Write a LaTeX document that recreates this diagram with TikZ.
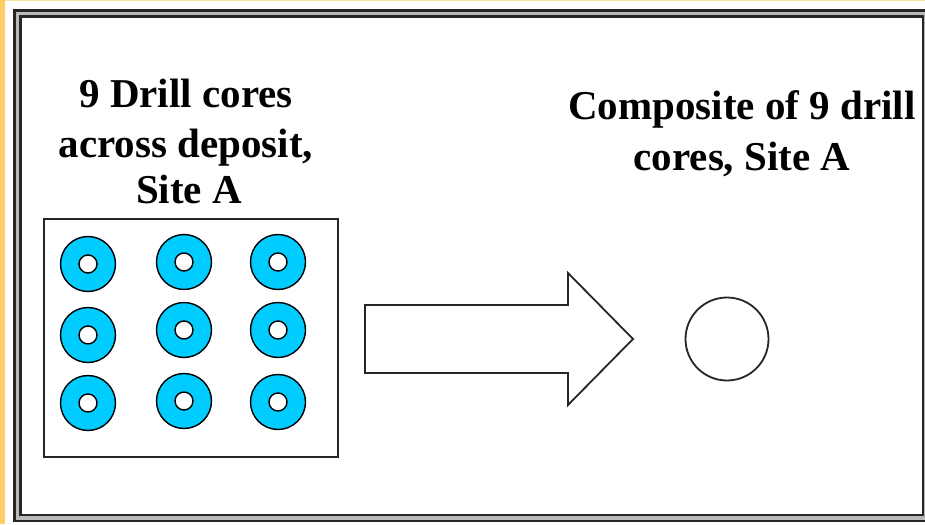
\documentclass[tikz,border=0pt]{standalone}
\usepackage{fontspec}
\newfontfamily\headfont{LiberationSerif-Bold.ttf}
\begin{document}
\begin{tikzpicture}[x=1pt,y=-1pt,
  title/.style={font=\headfont\fontsize{41}{47}\selectfont, anchor=base, inner sep=0pt},
  frameline/.style={draw=black!85, line width=2.6pt},
  donut/.style={circle, draw=black, line width=1.4pt, inner sep=0pt, minimum size=55pt},
  hole/.style={circle, draw=black, line width=1.4pt, fill=white, inner sep=0pt, minimum size=18pt}]
\definecolor{slideorange}{HTML}{FFCC66}
\definecolor{corecyan}{HTML}{00CCFF}
\useasboundingbox (0,0) rectangle (925,524);
\fill[white] (0,0) rectangle (925,524);
% orange slide edge
\fill[slideorange] (0,0) rectangle (5,524);
\fill[slideorange!60] (5,0) rectangle (925,1.5);
% double frame
\draw[gray!55, line width=8pt] (17.5,13.3) rectangle (926,518);
\draw[frameline] (14.5,10.3) rectangle (929,521);
\draw[frameline] (20.5,16.3) rectangle (923,515);
% titles
\node[title] (l1) at (186,108) {9 Drill cores};
\node[title] (l2) at (186,157) {across deposit,};
\node[title] (l3) at (189,203) {Site A};
\node[title] (r1) at (742,120) {Composite of 9 drill};
\node[title] (r2) at (742,170) {cores, Site A};
% box of drill cores
\node[draw=black!85, line width=2pt, minimum width=294pt, minimum height=238pt, inner sep=0pt] (box) at (191,338) {};
\foreach \n/\cx/\cy in {a/88/264, b/184/262, c/278/262,
                        d/88/335, e/184/330, f/278/330,
                        g/88/403, h/184/401, i/278/402}{
  \node[donut, fill=corecyan] (core\n) at (\cx,\cy) {};
  \node[hole] (hole\n) at (core\n.center) {};
}
% block arrow
\draw[black!85, line width=1.8pt, line join=miter, fill=white]
  (365,305) -- (568,305) -- (568,273) -- (633,339) -- (568,405) -- (568,373) -- (365,373) -- cycle;
% composite
\node[circle, draw=black!85, line width=1.8pt, minimum size=83pt, inner sep=0pt] (comp) at (727,339) {};
\end{tikzpicture}
\end{document}
